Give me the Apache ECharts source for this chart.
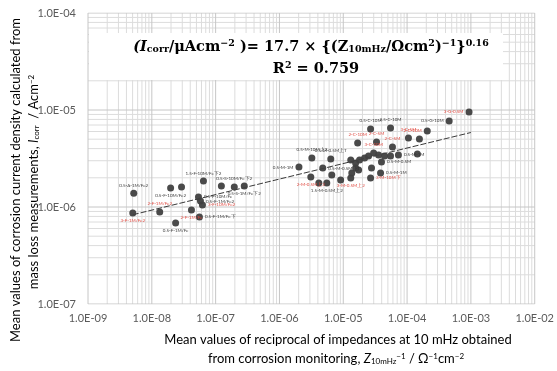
<!DOCTYPE html>
<html>
<head>
<meta charset="utf-8">
<script src="https://cdn.jsdelivr.net/npm/echarts@6/dist/echarts.min.js"></script>
<style>
  html, body { margin: 0; padding: 0; background: #fff; }
  #chart { width: 557px; height: 371px; }
</style>
</head>
<body>
<div id="chart"></div>
<script>
// Reciprocal impedance at 10 mHz (Ω^-1 cm^-2)
const recipZ = [
  5.03e-9, 5.21e-9, 1.33e-8, 1.97e-8, 2.92e-8, 4.18e-8, 2.36e-8, 5.57e-8, 5.38e-8, 5.78e-8,
  6.21e-8, 6.44e-8, 1.23e-7, 1.96e-7, 2.81e-7, 2.02e-6, 3.22e-6, 6.37e-6, 4.77e-6, 3.10e-6,
  4.14e-6, 5.52e-6, 6.61e-6, 1.31e-5, 1.36e-5, 1.56e-5, 1.80e-5, 2.16e-5, 2.49e-5, 2.99e-5,
  3.57e-5, 4.43e-5, 5.50e-5, 7.31e-5, 1.45e-4, 3.97e-5, 3.84e-5, 2.77e-5, 1.74e-5, 9.1e-6,
  2.68e-5, 2.68e-5, 5.50e-5, 1.68e-5, 3.32e-5, 5.90e-5, 1.05e-4, 1.56e-4, 2.07e-4, 4.56e-4,
  9.35e-4, 1.31e-5, 1.56e-5
];
// Corrosion current density from mass loss (A cm^-2)
const icorr = [
  8.67e-7, 1.39e-6, 8.88e-7, 1.57e-6, 1.61e-6, 9.31e-7, 6.84e-7, 7.88e-7, 1.27e-6, 1.15e-6,
  1.05e-6, 1.85e-6, 1.65e-6, 1.61e-6, 1.65e-6, 2.58e-6, 3.20e-6, 3.13e-6, 2.52e-6, 2.04e-6,
  1.77e-6, 1.77e-6, 2.14e-6, 1.99e-6, 2.24e-6, 2.84e-6, 3.05e-6, 3.20e-6, 3.36e-6, 3.60e-6,
  3.44e-6, 3.36e-6, 3.36e-6, 3.44e-6, 3.52e-6, 2.91e-6, 2.24e-6, 2.52e-6, 2.41e-6, 1.90e-6,
  1.99e-6, 6.37e-6, 6.52e-6, 4.57e-6, 4.68e-6, 4.16e-6, 5.14e-6, 5.02e-6, 6.07e-6, 7.70e-6,
  9.54e-6, 3.05e-6, 2.52e-6
];
// Specimen tags (empty = untagged)
const tags = [
  '3-F-1M/Fe2', '0.5-A-1M/Fe2', '2-F-1M/Fe2', '0.5-F-10M/Fe2', '', '2-F-1M/Fe', '0.5-F-1M/Fe', '0.5-F-1M/Fe下', '0.5-F-10M/Fe', '0.5-F-1M/Fe2',
  '3-F-10M/Fe2', '1.5-F-10M/Fe下2', '', '0.5-S-10M/Fe下2', '0.5-S-1M/Fe下2', '0.5-M-1M', '0.5-M-10M上2', '0.5-M-0.5M上T', '0.5-M-0.5M下T', '2-M-0.5M上2',
  '', '1.5-M-0.5M上2', '', '3-M-0.5M上2', '', '', '', '', '', '3-C-10M',
  '', '', '', '0.5-M-1M', '', '0.5-M-0.5M', '0.5-M-1M', '', '', '',
  '3-M-10M下', '0.5-C-10M', '2.5-C-10M', '2-C-10M', '2-C-5M', '2-C-5M', '3-C-5M', '', '2-C-10M', '0.5-G-10M',
  '3-G-0.5M', '', ''
];
// 1 = tag printed in red
const tagRed = [
  1, 0, 1, 0, 0, 1, 0, 0, 0, 0,
  1, 0, 0, 0, 0, 0, 0, 0, 0, 1,
  0, 0, 0, 1, 0, 0, 0, 0, 0, 1,
  0, 0, 0, 0, 0, 0, 0, 0, 0, 0,
  1, 0, 0, 1, 1, 1, 1, 0, 1, 0,
  1, 0, 0
];
// Side of the marker each tag sits on
const tagSide = [
  'bottom', 'top', 'top', 'bottom', '', 'bottom', 'bottom', 'right', 'right', 'right',
  'right', 'top', '', 'top', 'bottom', 'left', 'top', 'top', 'right', 'bottom',
  '', 'bottom', '', 'bottom', '', '', '', '', '', 'top',
  '', '', '', 'right', '', 'right', 'right', '', '', '',
  'right', 'top', 'top', 'top', 'top', 'top', 'top', '', 'left', 'left',
  'left', '', ''
];

// Power-law fit: Icorr/µAcm^-2 = 17.7 × (Z^-1)^0.16, R² = 0.759
const fitCoef = 17.7;
const fitExp = 0.16;
const fitRange = [5.03e-9, 1.0e-3];

const xTickMin = 1e-9, xTickMax = 1e-2;
const yTickMin = 1e-7, yTickMax = 1e-4;

const chart = echarts.init(document.getElementById('chart'), null, { renderer: 'canvas' });

function sciLabel(v) {
  const e = Math.round(Math.log10(v));
  const a = Math.abs(e);
  return '1.0E' + (e < 0 ? '-' : '+') + (a < 10 ? '0' + a : '' + a);
}

// Excel-style log gridlines at m × 10^n, drawn as broken polylines
function logSteps(lo, hi, major) {
  const out = [];
  const e0 = Math.round(Math.log10(lo)), e1 = Math.round(Math.log10(hi));
  for (let e = e0; e <= e1; e++) {
    for (let m = 1; m <= 9; m++) {
      const v = m * Math.pow(10, e);
      if (v > hi * 1.0001) break;
      if ((m === 1) === major) out.push(v);
    }
  }
  return out;
}
function vSegments(xs) {
  const d = [];
  xs.forEach(x => { d.push([x, yTickMin], [x, yTickMax], ['-', '-']); });
  return d;
}
function hSegments(ys) {
  const d = [];
  ys.forEach(y => { d.push([xTickMin, y], [xTickMax, y], ['-', '-']); });
  return d;
}
function gridSeries(data, color) {
  return {
    type: 'line', data: data, symbol: 'none', silent: true, z: 1,
    connectNulls: false, animation: false,
    lineStyle: { color: color, width: 1 }
  };
}

const pts = recipZ.map((x, i) => {
  const item = { value: [x, icorr[i]] };
  if (tags[i]) {
    item.label = {
      show: true,
      formatter: tags[i],
      position: tagSide[i],
      distance: 2,
      color: tagRed[i] ? '#e0463c' : '#333',
      fontSize: 4.5,
      fontFamily: 'Lato'
    };
  }
  return item;
});

const fitLine = fitRange.map(x => [x, fitCoef * Math.pow(x, fitExp) * 1e-6]);

const axisFont = { fontFamily: 'Lato', fontSize: 11, color: '#5a5a5a' };
const tFs = 13;
const titleRich = {
  n: { fontFamily: 'Lato', fontSize: tFs, color: '#595959' },
  it: { fontFamily: 'Lato', fontSize: tFs, fontStyle: 'italic', color: '#595959' },
  sub: { fontFamily: 'Lato', fontSize: 8, color: '#595959', verticalAlign: 'bottom', padding: [4, 0, 0, 0] },
  sup: { fontFamily: 'Lato', fontSize: 8, color: '#595959', verticalAlign: 'top', padding: [0, 0, 4, 0] }
};

const eqFont = 'DejaVu Serif';
const eqFs = 14.5;
const eqRich = {
  a: { fontFamily: eqFont, fontWeight: 'bold', fontSize: eqFs, color: '#000' },
  ai: { fontFamily: eqFont, fontWeight: 'bold', fontStyle: 'italic', fontSize: eqFs, color: '#000' },
  sub: { fontFamily: eqFont, fontWeight: 'bold', fontSize: 9.5, color: '#000', verticalAlign: 'bottom', padding: [6, 0, 0, 0] },
  sup: { fontFamily: eqFont, fontWeight: 'bold', fontSize: 9.5, color: '#000', verticalAlign: 'top', padding: [0, 0, 6, 0] }
};

chart.setOption({
  animation: false,
  backgroundColor: '#fff',
  grid: { left: 88, right: 20, top: 13, bottom: 67 },
  xAxis: {
    type: 'log', logBase: 10, min: xTickMin, max: xTickMax,
    axisLine: { show: false }, axisTick: { show: false },
    splitLine: { show: false },
    axisLabel: Object.assign({ formatter: sciLabel, margin: 9 }, axisFont)
  },
  yAxis: {
    type: 'log', logBase: 10, min: yTickMin, max: yTickMax,
    axisLine: { show: false }, axisTick: { show: false },
    splitLine: { show: false },
    axisLabel: Object.assign({ formatter: sciLabel, margin: 12 }, axisFont)
  },
  series: [
    gridSeries(vSegments(logSteps(xTickMin, xTickMax, false)), '#dcdcdc'),
    gridSeries(hSegments(logSteps(yTickMin, yTickMax, false)), '#dcdcdc'),
    gridSeries(vSegments(logSteps(xTickMin, xTickMax, true)), '#c6c6c6'),
    gridSeries(hSegments(logSteps(yTickMin, yTickMax, true)), '#c6c6c6'),
    {
      type: 'line', data: fitLine, symbol: 'none', z: 3,
      lineStyle: { color: '#3a3a3a', width: 1, type: [6, 2] }
    },
    {
      type: 'scatter', data: pts, symbolSize: 7, z: 4,
      itemStyle: { color: '#404040', opacity: 0.95 },
      labelLayout: { hideOverlap: false }
    }
  ],
  graphic: [
    { type: 'rect', shape: { x: 89, y: 33, width: 414, height: 47 }, style: { fill: '#fff' }, z: 10 },
    {
      type: 'text', x: 311, y: 47, z: 11,
      style: {
        text: '{ai|(I}{sub|corr}{a|/μAcm}{sup|−2}{a| )= 17.7 × {(Z}{sub|10mHz}{a|/Ωcm}{sup|2}{a|)}{sup|−1}{a|\u007d}{sup|0.16}',
        rich: eqRich, align: 'center', verticalAlign: 'middle',
        fontFamily: eqFont, fontWeight: 'bold', fontSize: eqFs, fill: '#000'
      }
    },
    {
      type: 'text', x: 316, y: 69, z: 11,
      style: {
        text: '{a|R}{sup|2}{a| = 0.759}',
        rich: eqRich, align: 'center', verticalAlign: 'middle'
      }
    },
    {
      type: 'text', x: 338, y: 340,
      style: {
        text: '{n|Mean values of reciprocal of impedances at 10 mHz obtained}',
        rich: titleRich, align: 'center', verticalAlign: 'middle'
      }
    },
    {
      type: 'text', x: 336, y: 359,
      style: {
        text: '{n|from corrosion monitoring, }{it|Z}{sub|10mHz}{sup|−1}{n| / Ω}{sup|−1}{n|cm}{sup|−2}',
        rich: titleRich, align: 'center', verticalAlign: 'middle'
      }
    },
    {
      type: 'text', x: 16, y: 180, rotation: Math.PI / 2,
      style: {
        text: '{n|Mean values of corrosion current density calculated from}',
        rich: titleRich, align: 'center', verticalAlign: 'middle'
      }
    },
    {
      type: 'text', x: 34, y: 182, rotation: Math.PI / 2,
      style: {
        text: '{n|mass loss measurements, }{it|I}{sub|corr}{n|  / Acm}{sup|−2}',
        rich: titleRich, align: 'center', verticalAlign: 'middle'
      }
    }
  ]
});
</script>
</body>
</html>
